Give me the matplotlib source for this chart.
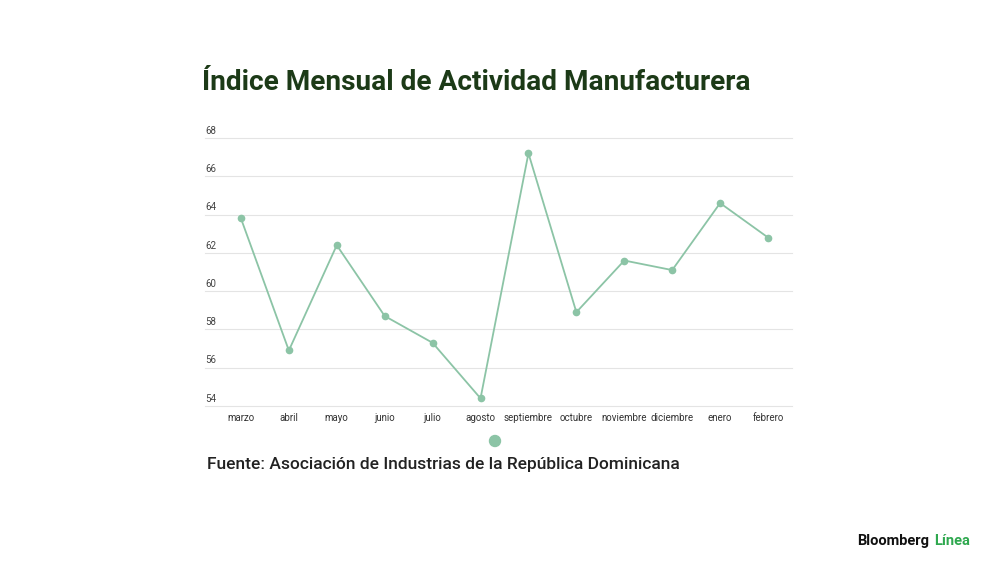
import matplotlib.pyplot as plt
from matplotlib.patches import Ellipse

months = ["marzo", "abril", "mayo", "junio", "julio", "agosto", "septiembre",
          "octubre", "noviembre", "diciembre", "enero", "febrero"]
values = [63.8, 56.9, 62.4, 58.7, 57.3, 54.4, 67.2, 58.9, 61.6, 61.1, 64.6, 62.8]
yticks = [54, 56, 58, 60, 62, 64, 66, 68]

W, H = 1000, 562
line_col = "#8cc4a6"

fig = plt.figure(figsize=(W / 100, H / 100), dpi=100)
fig.patch.set_facecolor("white")
ax = fig.add_axes([205 / W, 1 - 406 / H, (792 - 205) / W, (406 - 138) / H])

x = range(len(months))
ax.plot(x, values, color=line_col, lw=1.3, marker="o", ms=4.5)
ax.set_ylim(54, 68)
ax.set_xlim(-0.75, len(months) - 0.5)
ax.set_yticks(yticks)
ax.set_yticklabels([])
for t in yticks:
    ax.axhline(t, color="#e4e4e4", lw=0.8, zorder=0, clip_on=False)
    ax.text(0, t + 0.12, str(t), transform=ax.get_yaxis_transform(),
            fontsize=7, color="#444444", family="Roboto", va="bottom", ha="left")
ax.set_xticks(list(x))
ax.set_xticklabels(months, fontsize=7, color="#333333", family="Roboto")
ax.tick_params(length=0, pad=5)
for s in ax.spines.values():
    s.set_visible(False)

fig.text(202 / W, 1 - 83 / H, "Índice Mensual de Actividad Manufacturera",
         fontsize=20.2, fontweight="bold", color="#1c3a17", family="Roboto", va="center")
fig.text(207 / W, 1 - 465 / H, "Fuente: Asociación de Industrias de la República Dominicana",
         fontsize=12.5, fontweight="medium", color="#222222", family="Roboto", va="center")
fig.add_artist(Ellipse((495 / W, 1 - 441 / H), 11 / W, 11 / H,
                       transform=fig.transFigure, color=line_col))
fig.text(857 / W, 1 - 541 / H, "Bloomberg", fontsize=10.5, fontweight="bold",
         color="#111111", family="Roboto", va="center")
fig.text(934 / W, 1 - 541 / H, "Línea", fontsize=10.5, fontweight="bold",
         color="#2fa84f", family="Roboto", va="center")

fig.savefig("out.png", dpi=100)
